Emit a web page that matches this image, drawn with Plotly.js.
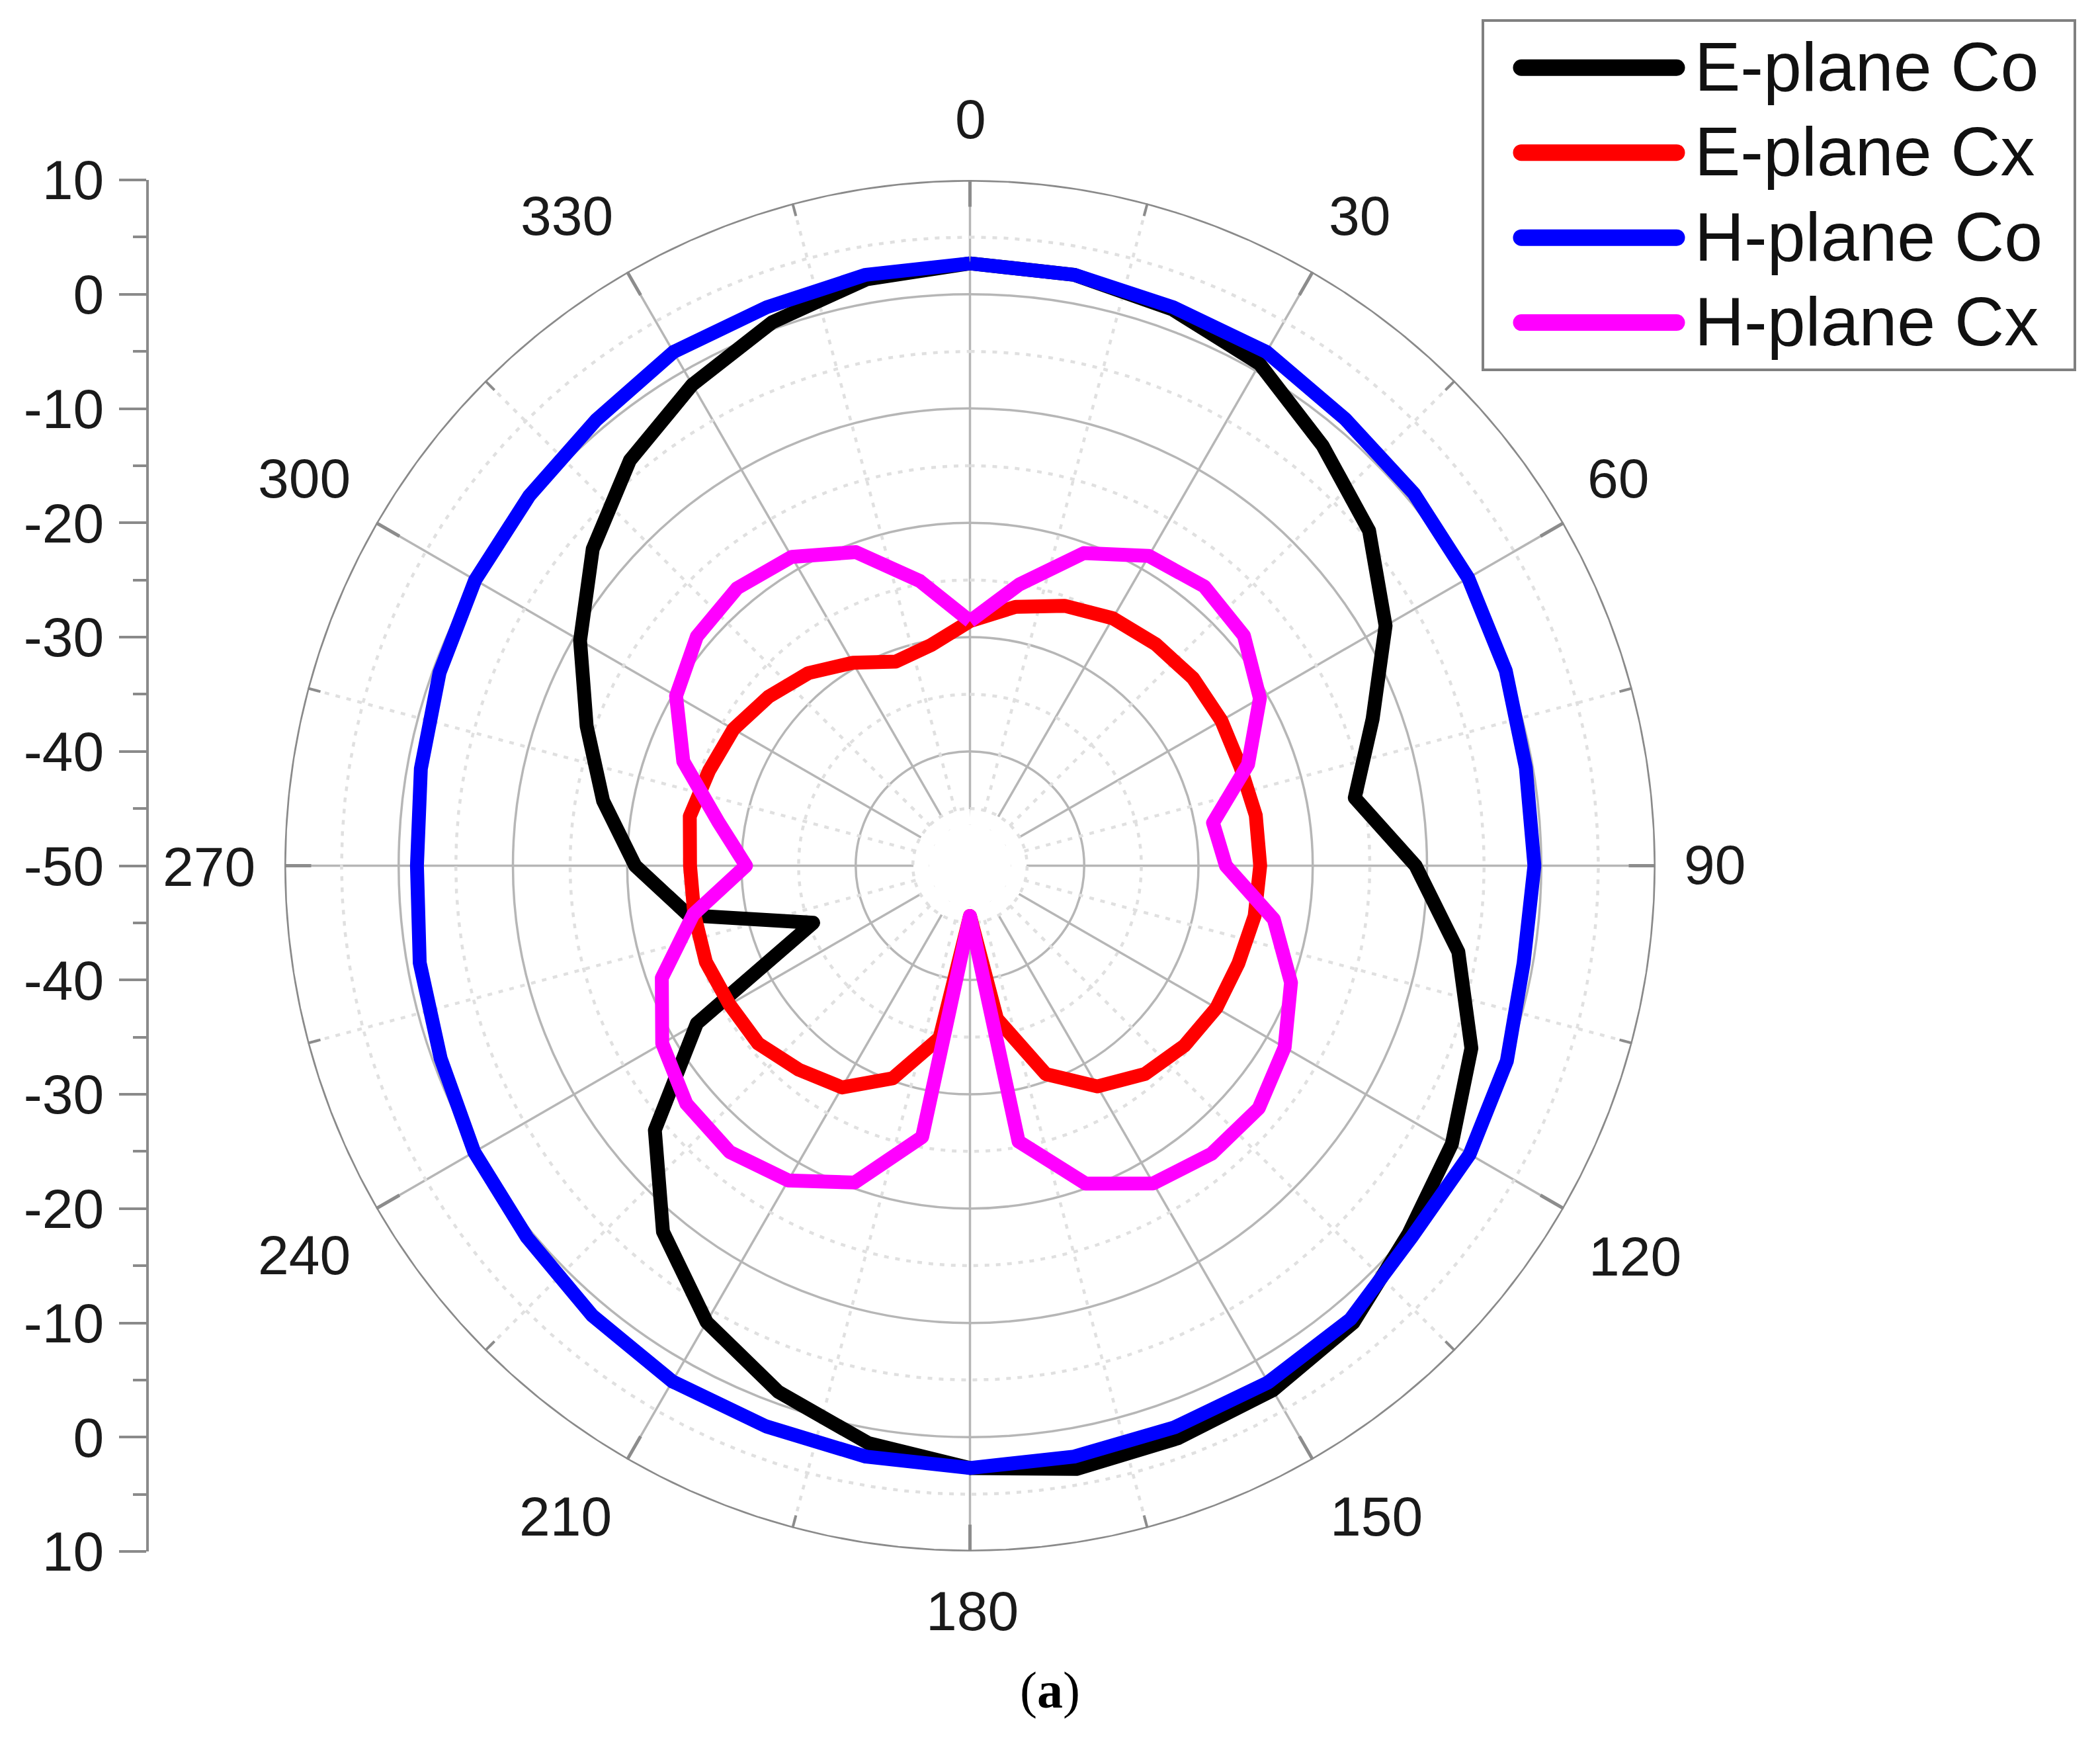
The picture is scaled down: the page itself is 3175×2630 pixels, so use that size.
<!DOCTYPE html>
<html><head><meta charset="utf-8">
<script src="https://cdn.plot.ly/plotly-3.0.1.min.js"></script>
<style>
html,body{margin:0;padding:0;background:#fff}
.legendlines path{stroke-linecap:round;stroke-width:25px !important;stroke-dasharray:235px,3000px !important}
.scatterlayer .js-line{stroke-linejoin:round}
.legendtext{font-size:104px !important;transform:translate(-41px,-3px)}
</style></head><body><div id="chart" style="width:3175px;height:2630px"></div>
<script>
const angles=[0,10,20,30,40,50,60,70,80,90,100,110,120,130,140,150,160,170,180,190,200,210,220,230,240,250,260,270,280,290,300,310,320,330,340,350,360];
const ePlaneCo=[2.7,2.5,1.8,0.7,-2,-4.4,-8,-12.5,-15.8,-11,-6.6,-3.3,-1.3,0.1,2.2,3,3.3,3.6,2.7,1.3,-1,-3.9,-8.2,-14,-22.4,-35.4,-25,-20.7,-17.4,-14.3,-10.6,-6.9,-3.7,-1.4,0.6,2.1,2.7];
const ePlaneCx=[-28.6,-27,-25.8,-25,-24.7,-24.5,-24.6,-24.8,-24.6,-24.6,-24.7,-25,-25.1,-25.5,-26.2,-27.7,-30.6,-36.4,-45.6,-34.7,-30.2,-27.6,-26.7,-25.8,-25.7,-25.4,-25.5,-25.5,-25.1,-25.7,-26.1,-27,-28,-29.5,-31,-30.4,-28.6];
const hPlaneCo=[2.7,2.5,2,1.9,1.05,0.7,0.35,-0.1,-0.6,-0.6,-0.8,0,0.5,0.5,1.8,2.2,2.3,2.5,2.7,2.5,2.2,2.1,1.4,0.6,0.1,-0.7,-1.1,-1.6,-1.2,-0.6,0,0.35,0.9,1.9,2,2.5,2.7];
const hPlaneCx=[-28.6,-25,-20.9,-18.7,-18.1,-18.7,-20.7,-24.1,-28.4,-27.6,-23,-20.1,-18.2,-17,-17.1,-17.9,-20.4,-25.5,-45.6,-25.9,-20.5,-18.2,-17.3,-17.6,-18.9,-21.3,-25.4,-30.4,-27.6,-23.3,-20.3,-18.8,-18.3,-18.8,-20.8,-24.7,-28.6];
const seriesNames=['E-plane Co','E-plane Cx','H-plane Co','H-plane Cx'];
const seriesColors=['#000000','#ff0000','#0000ff','#ff00ff'];
const angleTicks=[0,30,60,90,120,150,180,210,240,270,300,330];
const radialLabelVals=[-60,-50,-40,-30,-20,-10,0,10,20,30,40,50,60];
const radialLabelText=['10','0','-10','-20','-30','-40','-50','-40','-30','-20','-10','0','10'];
const minorRadii=[-45,-35,-25,-15,-5,5];
const minorSpokes=[15,45,75,105,135,165,195,225,255,285,315,345];
const angleLabelX=[1467,2055,2446,2592,2472,2081,1470,855,460,316,460,857];
const angleLabelY=[180,326,723,1307,1899,2292,2435,2292,1897,1310,723,326];

const W=3175,H=2630,cx=1466.5,cy=1308.5,R=1036.5;
const FONT='"Liberation Sans", Arial, sans-serif';
const HOLE=0.06, rMin=-50+HOLE*60, holeEdge=-45.08;
const traces=[];
const circ=[];for(let a=0;a<=360;a+=3)circ.push(a);
const DOT={color:'#e0e0e0',width:4.5,dash:'7px,10px'};
traces.push({type:'scatterpolar',mode:'lines',r:circ.map(()=>(rMin+holeEdge)/2),theta:circ,cliponaxis:false,showlegend:false,hoverinfo:'skip',line:{color:'#ffffff',width:24}});
minorRadii.forEach(v=>traces.push({type:'scatterpolar',mode:'lines',r:circ.map(()=>v),theta:circ,cliponaxis:false,showlegend:false,hoverinfo:'skip',line:DOT}));
minorSpokes.forEach(a=>{
  traces.push({type:'scatterpolar',mode:'lines',r:[holeEdge,10],theta:[a,a],showlegend:false,hoverinfo:'skip',line:DOT});
  traces.push({type:'scatterpolar',mode:'lines',r:[8.85,10],theta:[a,a],showlegend:false,hoverinfo:'skip',line:{color:'#8c8c8c',width:4}});
});
traces.push({type:'scatterpolar',mode:'lines',r:circ.map(()=>10),theta:circ,cliponaxis:false,showlegend:false,hoverinfo:'skip',line:{color:'#8a8a8a',width:5}});
[ePlaneCo,ePlaneCx,hPlaneCo,hPlaneCx].forEach((d,i)=>traces.push({type:'scatterpolar',mode:'lines',name:seriesNames[i],r:d,theta:angles,cliponaxis:false,line:{color:seriesColors[i],width:21},hoverinfo:'skip'}));
traces.push({type:'scatter',x:[null],y:[null],xaxis:'x',yaxis:'y',showlegend:false,hoverinfo:'skip'});
const layout={
  width:W,height:H,margin:{l:0,r:0,t:0,b:0},paper_bgcolor:'#fff',plot_bgcolor:'rgba(0,0,0,0)',
  font:{family:FONT,color:'#1a1a1a',size:84},showlegend:true,
  polar:{domain:{x:[(cx-R)/W,(cx+R)/W],y:[1-(cy+R)/H,1-(cy-R)/H]},hole:HOLE,bgcolor:'rgba(0,0,0,0)',
    radialaxis:{range:[rMin,10],tick0:-50,dtick:10,showticklabels:false,ticks:'',showline:false,gridcolor:'#b6b6b6',gridwidth:3.5,layer:'below traces'},
    angularaxis:{rotation:90,direction:'clockwise',tickmode:'array',tickvals:angleTicks,showticklabels:false,ticks:'inside',ticklen:40,tickwidth:5,tickcolor:'#8c8c8c',showline:false,gridcolor:'#b6b6b6',gridwidth:3.5,layer:'below traces'}},
  xaxis:{domain:[225/W,300/W],visible:false,range:[0,1],fixedrange:true},
  yaxis:{domain:[1-(cy+R)/H,1-(cy-R)/H],range:[-60,60],anchor:'x',side:'left',tickmode:'array',tickvals:radialLabelVals,ticktext:radialLabelText,ticks:'outside',ticklen:41,tickwidth:4,tickcolor:'#8a8a8a',linecolor:'#8a8a8a',linewidth:4,showline:true,showgrid:false,zeroline:false,ticklabelstandoff:6,tickfont:{size:84,family:FONT,color:'#1a1a1a'},minor:{dtick:5,ticks:'outside',ticklen:20,tickwidth:4,tickcolor:'#8a8a8a',showgrid:false}},
  legend:{x:2240/W,y:1-29/H,xanchor:'left',yanchor:'top',bgcolor:'#fff',bordercolor:'#808080',borderwidth:4,font:{size:96.5,family:FONT,color:'#111'},itemwidth:298,indentation:51,itemclick:false,traceorder:'normal'},
  annotations:angleTicks.map((t,i)=>({text:String(t),x:angleLabelX[i]/W,y:1-angleLabelY[i]/H,xref:'paper',yref:'paper',xanchor:'center',yanchor:'middle',showarrow:false,font:{family:FONT,size:84,color:'#1a1a1a'}})).concat([{text:'(<b>a</b>)',x:1587/W,y:1-2554/H,xref:'paper',yref:'paper',xanchor:'center',yanchor:'middle',showarrow:false,font:{family:'"Liberation Serif", serif',size:78,color:'#000'}}])
};
Plotly.newPlot('chart',traces,layout,{displayModeBar:false,staticPlot:true});
</script></body></html>
